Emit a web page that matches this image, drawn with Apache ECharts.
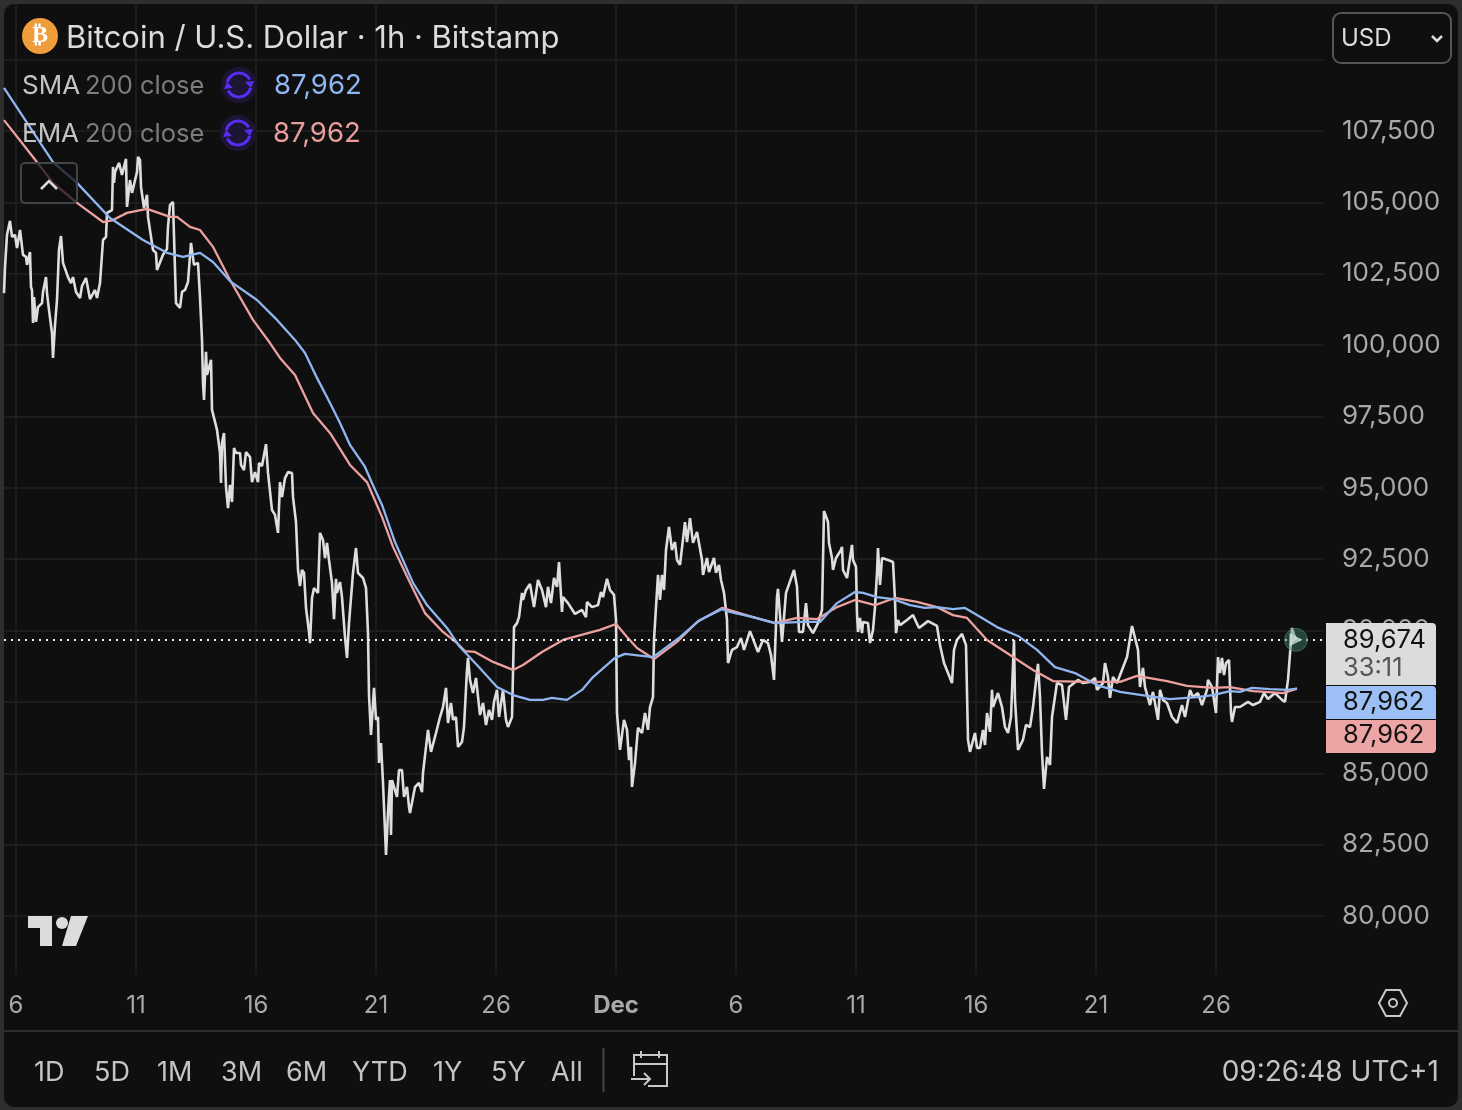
<!DOCTYPE html>
<html>
<head>
<meta charset="utf-8">
<title>BTC/USD</title>
<script src="https://cdn.jsdelivr.net/npm/echarts@6/dist/echarts.min.js"></script>
<style>
  html, body { margin: 0; height: 100%; background: #2e2e2e; overflow: hidden; }
  #frame { position: absolute; left: 4px; top: 4px; width: 1454px; height: 1103px; border-radius: 10px; background: #0f0f0f; }
  #chart { position: absolute; left: 0; top: 0; width: 1462px; height: 1110px; }
</style>
</head>
<body>
<div id="frame"></div>
<div id="chart"></div>
<script>
// hours since 6 Nov 00:00
const closeHours = [-12,-11,-9,-6,-4,-1,1,3,4,7,10,11,14,15,16,17,18,20,22,26,27,30,31,33,36,37,39,41,43,45,47,52,55,57,60,64,66,70,74,79,81,84,87,90,91,96,97,98,99,103,106,110,111,114,116,121,122,124,125,128,131,132,137,140,141,147,151,152,154,157,160,164,166,169,172,175,177,178,182,184,186,187,188,190,191,195,196,201,204,205,206,208,210,212,214,216,218,220,224,225,228,230,234,236,239,242,243,246,250,252,256,259,262,264,266,269,272,276,277,280,282,284,286,288,290,292,293,294,296,298,302,304,307,309,311,313,316,318,320,321,324,326,329,331,333,337,340,342,347,350,352,353,355,358,360,362,363,365,367,370,372,374,375,376,381,383,386,388,391,393,394,399,403,406,407,412,415,420,424,427,430,432,435,437,440,442,446,448,451,452,454,457,460,464,467,470,473,476,478,481,483,487,490,492,496,497,498,501,503,506,507,510,514,518,522,526,530,532,535,538,541,543,544,546,547,552,559,566,570,571,576,582,585,587,591,594,598,600,601,604,608,611,613,615,616,619,622,626,629,632,634,637,638,640,642,644,646,648,650,653,656,659,661,664,669,671,674,677,681,686,687,691,693,698,700,703,705,708,711,712,716,721,725,728,734,742,747,752,755,758,761,762,764,766,770,772,778,781,783,787,790,792,797,802,806,808,812,813,816,817,820,825,826,827,831,836,837,840,841,842,844,846,847,852,854,857,859,861,862,864,866,872,877,879,880,882,884,891,897,903,912,921,924,928,936,938,941,946,950,952,954,959,961,964,967,969,971,974,976,977,982,986,989,992,995,998,999,1002,1007,1010,1014,1017,1022,1024,1026,1028,1031,1034,1036,1041,1046,1050,1053,1062,1067,1074,1079,1081,1087,1089,1092,1094,1097,1101,1106,1111,1116,1118,1122,1124,1127,1129,1134,1137,1142,1144,1147,1151,1156,1161,1166,1169,1174,1177,1182,1186,1191,1192,1196,1200,1202,1204,1206,1208,1210,1213,1215,1216,1219,1224,1232,1237,1244,1248,1252,1259,1266,1269,1272,1273,1276,1277,1280];
const closePrices = [101820,102730,103860,104350,103790,103860,103400,103330,104030,103160,103090,102810,103260,102030,101930,100770,101680,100810,101330,101470,101860,102380,101820,101230,100420,99550,100700,101580,103330,103820,102880,102380,102170,102380,101860,101650,102070,102350,101610,101930,101650,102170,103680,103790,104630,104730,106240,105680,106060,106380,105960,106520,104840,105780,105330,106060,106590,106480,105540,104800,105260,104490,103330,103230,102630,103160,103370,104140,104910,105010,101470,101300,101860,101930,102210,103580,103650,102810,102880,101680,100180,98670,98080,99760,98950,99480,97730,97030,96220,95170,96570,96920,95030,94290,95100,94500,96390,96220,96220,95800,95620,96250,96080,95200,95550,95200,95870,95760,96530,95520,94220,94050,93420,95200,94680,95340,95550,95520,94680,93800,92120,91560,92120,92020,90790,90720,89950,89560,91140,91490,91320,93420,93170,92540,93070,92470,91670,90400,91810,91320,91700,91170,89770,89040,90260,92020,92890,92020,91840,91490,89910,87740,86340,87990,86870,86970,85360,86060,84660,82140,83610,84760,82840,84760,84170,85110,85110,84170,84520,83820,83610,84520,84660,84340,85010,86520,85750,86410,86970,87320,87990,86760,87460,86870,86970,85920,86100,86620,88620,89040,88270,87810,88340,87040,87460,86690,87220,86870,87500,87920,86970,87920,86870,86620,86970,88510,90120,90260,90470,91320,91070,91420,91630,90820,91770,91420,90820,91530,90960,91840,91530,92400,92400,90650,91170,90960,90580,90720,90470,91000,90820,90890,91350,91170,91810,91420,91250,90370,87110,85820,86870,86520,85460,85920,84520,85360,86590,86410,87110,86520,87320,87670,89670,90820,91950,91070,91950,91420,92820,93630,92820,93100,92470,92300,93800,93100,93940,93070,93450,92470,91950,92540,92050,92540,92020,92300,91770,91320,90370,88860,89320,89420,89740,89320,89980,89250,89670,89560,89140,88270,91170,91460,91420,89600,91320,91350,92120,91530,89950,89950,90960,90190,89910,90260,90720,94190,93800,93070,92540,92120,92540,92820,92930,92120,91840,93000,92470,92230,90610,89950,90440,89910,90300,90260,89560,90020,90820,92020,92890,91600,92540,92470,92400,91070,89910,90370,90190,90370,90540,90090,90330,90160,89490,88860,88160,89320,89670,89880,89490,86170,85750,86410,85890,85890,86520,85990,87110,86450,87920,87320,87810,87320,86620,86410,86970,89670,87570,85820,86170,86690,86620,87320,88830,87670,85710,84450,85570,85290,86970,88160,88090,86870,88020,88270,88160,88200,88340,87920,88160,88860,88370,87640,88370,88160,88620,89070,90160,90090,89320,88020,88690,88020,87390,87850,86870,87920,87570,87460,86970,86760,87390,86970,87920,87670,87810,87390,87920,88270,88020,87110,89070,88510,89040,88440,88860,88970,87110,86800,87320,87320,87500,87390,87500,87810,87600,87810,87570,87500,88270,88340,90090,89950,89674];

const smaHours = [-12,37,61,94,127,151,167,184,197,214,241,261,279,289,301,314,324,334,349,356,366,379,397,411,431,444,461,481,497,514,527,536,551,566,577,599,609,637,664,684,706,714,737,759,787,804,821,839,847,861,877,894,909,921,937,949,961,981,1002,1021,1039,1059,1081,1104,1131,1154,1181,1197,1214,1224,1236,1254,1271,1281];
const smaPrices = [109010,106410,105680,104450,103680,103230,103090,103230,102910,102240,101580,100880,100180,99720,98850,97970,97270,96500,95730,95170,94400,93100,91670,90890,90090,89420,88790,88020,87740,87570,87570,87640,87570,87920,88370,89040,89180,89070,89770,90370,90750,90650,90470,90260,90300,90300,90960,91350,91320,91170,91100,90890,90790,90820,90750,90790,90540,90120,89810,89320,88720,88510,88090,87850,87710,87600,87670,87740,87880,87850,87990,87950,87920,87962];

const emaHours = [-12,17,37,61,87,97,111,131,154,161,174,184,197,214,237,254,264,279,297,314,334,351,366,377,394,409,427,441,449,459,477,497,507,526,547,584,600,611,621,638,661,681,706,737,759,781,801,821,839,859,879,901,921,937,951,971,994,1017,1037,1071,1104,1121,1151,1171,1197,1214,1237,1267,1281];
const emaPrices = [107880,106590,105680,104980,104310,104380,104630,104770,104490,104490,104140,104030,103440,102280,100880,100070,99550,98950,97620,96920,95800,95200,93980,92930,91670,90610,89950,89560,89280,89250,88900,88620,88790,89250,89670,90020,90230,89770,89390,89000,89600,90300,90790,90470,90260,90440,90400,90820,91070,90890,91140,91000,90820,90540,90440,89670,89140,88620,88230,88200,88200,88410,88230,88060,87990,88020,87880,87810,87962];

const dayTicks = [0,120,240,360,480,600,720,840,960,1080,1200];
const dayLabels = ['6','11','16','21','26','Dec','6','11','16','21','26'];
const priceGrid = [80000,82500,85000,87500,90000,92500,95000,97500,100000,102500,105000,107500,110000];
const priceLabels = [80000,82500,85000,90000,92500,95000,97500,100000,102500,105000,107500];
const ranges = ['1D','5D','1M','3M','6M','YTD','1Y','5Y','All'];
const rangeX = [34,94,157,221,286,352,433,491,551];

const lastPrice = closePrices[closePrices.length - 1];
const lastHour = closeHours[closeHours.length - 1];
const FONT = 'Inter, "Noto Sans", sans-serif';

function zipXY(xs, ys) {
  return xs.map((x, i) => [x, ys[i]]);
}
function txt(x, y, text, size, color, extra) {
  return {
    type: 'text', x: x, y: y, z: 100,
    style: Object.assign({ text: text, fontFamily: FONT, fontSize: size, fill: color, verticalAlign: 'middle' }, extra || {})
  };
}
function stroke(points, color, width) {
  return { type: 'polyline', z: 100, shape: { points: points }, style: { stroke: color, fill: 'none', lineWidth: width } };
}
function box(x, y, w, h, fill, r) {
  return { type: 'rect', z: 99, shape: { x: x, y: y, width: w, height: h, r: r || 0 }, style: { fill: fill } };
}
function syncIcon(cx, cy) {
  const c = '#5a2cf5';
  const arc = (a, b) => ({
    type: 'arc', z: 100,
    shape: { cx: cx, cy: cy, r: 12, startAngle: a * Math.PI, endAngle: b * Math.PI, clockwise: true },
    style: { stroke: c, fill: 'none', lineWidth: 3 }
  });
  return [
    { type: 'circle', z: 99, shape: { cx: cx, cy: cy, r: 18 }, style: { fill: '#1c1533' } },
    arc(1.08, 1.85),
    arc(0.08, 0.85),
    { type: 'polygon', z: 100, shape: { points: [[cx + 6, cy - 3], [cx + 15, cy - 4], [cx + 12, cy + 3]] }, style: { fill: c } },
    { type: 'polygon', z: 100, shape: { points: [[cx - 6, cy + 3], [cx - 15, cy + 4], [cx - 12, cy - 3]] }, style: { fill: c } }
  ];
}

const chrome = [
  // header
  { type: 'circle', z: 99, shape: { cx: 40, cy: 36, r: 18 }, style: { fill: '#ef9c3a' } },
  txt(40, 36, '₿', 24, '#fff', { align: 'center', fontWeight: 'bold', fontFamily: '"DejaVu Sans"' }),
  txt(66, 39, 'Bitcoin / U.S. Dollar · 1h · Bitstamp', 31, '#dcdcdc'),

  // indicator legend
  txt(22, 86, 'SMA', 26, '#c4c4c4'),
  txt(85, 86, '200 close', 25.5, '#7c7c7c'),
  txt(274, 86, '87,962', 27.5, '#8fb6f0'),
  txt(22, 134, 'EMA', 26, '#c4c4c4'),
  txt(85, 134, '200 close', 25.5, '#7c7c7c'),
  txt(273, 134, '87,962', 27.5, '#e99d9d'),
  ...syncIcon(239, 85),
  ...syncIcon(238, 133),
  {
    type: 'rect', z: 99, shape: { x: 21, y: 163, width: 56, height: 40, r: 4 },
    style: { fill: 'rgba(15,15,15,0.75)', stroke: '#444', lineWidth: 2 }
  },
  stroke([[41, 189], [49, 181], [57, 189]], '#dcdcdc', 2.5),

  // currency button
  {
    type: 'rect', z: 99, shape: { x: 1333, y: 13, width: 118, height: 50, r: 8 },
    style: { fill: '#0f0f0f', stroke: '#555', lineWidth: 2 }
  },
  txt(1341, 39, 'USD', 24, '#dcdcdc'),
  stroke([[1432, 36], [1437, 41], [1442, 36]], '#dcdcdc', 2.5),

  // last value tags
  box(1326, 623, 110, 62, '#dcdcdc', [0, 4, 0, 0]),
  box(1326, 686, 110, 33, '#9cc0f5', [0, 4, 0, 0]),
  box(1326, 720, 110, 33, '#eda4a4', [0, 0, 4, 0]),
  txt(1343, 640, '89,674', 25.5, '#111'),
  txt(1343, 668, '33:11', 25.5, '#555'),
  txt(1343, 702, '87,962', 25.5, '#111'),
  txt(1343, 735, '87,962', 25.5, '#111'),

  // watermark
  { type: 'polygon', z: 98, shape: { points: [[28, 916], [52, 916], [52, 946], [40, 946], [40, 928], [28, 928]] }, style: { fill: '#dcdcdc' } },
  { type: 'circle', z: 98, shape: { cx: 62, cy: 923, r: 6 }, style: { fill: '#dcdcdc' } },
  { type: 'polygon', z: 98, shape: { points: [[71, 916], [88, 916], [76, 946], [62, 946]] }, style: { fill: '#dcdcdc' } },

  // settings hexagon
  {
    type: 'polygon', z: 100, shape: { points: [[1379, 1003], [1386, 990], [1400, 990], [1407, 1003], [1400, 1016], [1386, 1016]] },
    style: { fill: 'none', stroke: '#c8c8c8', lineWidth: 2 }
  },
  { type: 'circle', z: 100, shape: { cx: 1393, cy: 1003, r: 4 }, style: { fill: 'none', stroke: '#c8c8c8', lineWidth: 2 } },

  // bottom toolbar
  box(4, 1030, 1454, 2, '#2e2e2e'),
  box(602.5, 1048, 2, 44, '#444'),
  ...ranges.map((r, i) => txt(rangeX[i], 1073, r, 27, '#c4c4c4')),
  // calendar with arrow
  stroke([[634, 1076], [634, 1055], [667, 1055], [667, 1086], [648, 1086]], '#c8c8c8', 2),
  stroke([[634, 1064], [667, 1064]], '#c8c8c8', 2),
  stroke([[641, 1051], [641, 1058]], '#c8c8c8', 2),
  stroke([[659, 1051], [659, 1058]], '#c8c8c8', 2),
  stroke([[631, 1079], [649, 1079]], '#c8c8c8', 2),
  stroke([[644, 1073], [650, 1079], [644, 1085]], '#c8c8c8', 2),
  txt(1439, 1073, '09:26:48 UTC+1', 28, '#c4c4c4', { align: 'right' })
];

const myChart = echarts.init(document.getElementById('chart'));
const option = {
  animation: false,
  backgroundColor: 'transparent',
  textStyle: { fontFamily: FONT },
  grid: { left: 4, right: 139, top: 4, bottom: 136 },
  xAxis: {
    type: 'value',
    min: -12,
    max: 1307,
    axisLine: { show: false },
    axisTick: { show: false, customValues: dayTicks },
    axisLabel: {
      customValues: dayTicks,
      margin: 20,
      fontSize: 24,
      color: '#a8a8a8',
      fontFamily: FONT,
      formatter: function(v) {
        const s = dayLabels[dayTicks.indexOf(v)]
        return s === 'Dec' ? '{b|Dec}' : s
      },
      rich: { b: { fontSize: 24, fontWeight: 'bold', color: '#a8a8a8', fontFamily: FONT } }
    },
    splitLine: { show: true, lineStyle: { color: '#222', width: 1.5 } }
  },
  yAxis: {
    type: 'value',
    position: 'right',
    min: 77968,
    max: 111947,
    axisLine: { show: false },
    axisTick: { show: false, customValues: priceGrid },
    axisLabel: {
      customValues: priceLabels,
      margin: 19,
      align: 'left',
      fontSize: 26,
      color: '#a8a8a8',
      fontFamily: FONT,
      formatter: v => v.toLocaleString('en-US')
    },
    splitLine: { show: true, lineStyle: { color: '#222', width: 1.5 } }
  },
  series: [
    {
      name: 'Close',
      type: 'line',
      data: zipXY(closeHours, closePrices),
      showSymbol: false,
      z: 3,
      lineStyle: { color: '#dedede', width: 2.6 },
      markLine: {
        silent: true,
        symbol: 'none',
        label: { show: false },
        lineStyle: { color: '#f0f0f0', type: [2, 5], width: 2 },
        data: [{ yAxis: lastPrice }]
      }
    },
    {
      name: 'SMA 200',
      type: 'line',
      data: zipXY(smaHours, smaPrices),
      showSymbol: false,
      z: 5,
      lineStyle: { color: '#8fb6f0', width: 2.3 }
    },
    {
      name: 'EMA 200',
      type: 'line',
      data: zipXY(emaHours, emaPrices),
      showSymbol: false,
      z: 4,
      lineStyle: { color: '#eda0a0', width: 2.3 }
    },
    {
      name: 'Last',
      type: 'scatter',
      data: [[lastHour, lastPrice]],
      symbolSize: 23,
      z: 6,
      itemStyle: { color: 'rgba(68,135,113,0.55)', borderColor: 'rgba(68,135,113,0.8)', borderWidth: 1 }
    },
    {
      name: 'Last dot',
      type: 'scatter',
      data: [[lastHour, lastPrice]],
      symbol: 'triangle',
      symbolRotate: -90,
      symbolSize: 13,
      z: 7,
      itemStyle: { color: '#cfe3da' }
    }
  ],
  graphic: { elements: chrome }
};
myChart.setOption(option);
</script>
</body>
</html>
